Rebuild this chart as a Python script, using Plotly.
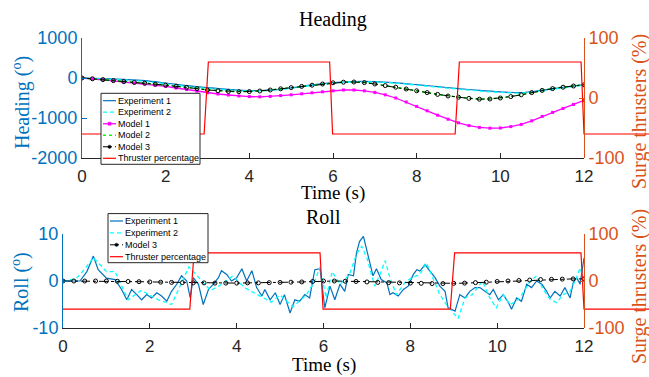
import plotly.graph_objects as go

# ---------------- DATA ----------------
# Heading (top plot)
t_model = [i * 0.25 for i in range(49)]
heading_model1 = [0, -20, -40, -70, -100, -125, -150, -180, -210, -250, -290, -330, -370, -400, -425, -450,
                  -465, -470, -460, -440, -420, -395, -370, -345, -320, -300, -300, -320, -360, -420, -500,
                  -600, -710, -820, -930, -1030, -1120, -1190, -1235, -1255, -1250, -1215, -1160, -1070,
                  -960, -860, -760, -660, -560]
heading_model2 = [0, -18, -38, -62, -88, -108, -128, -152, -178, -203, -232, -262, -296, -318, -333, -340,
                  -338, -323, -298, -268, -238, -208, -178, -148, -118, -103, -98, -112, -148, -188, -228,
                  -272, -318, -362, -408, -448, -478, -508, -528, -522, -498, -462, -418, -362, -308, -262,
                  -228, -198, -168]
heading_model3 = [0, -20, -40, -65, -90, -110, -130, -155, -180, -205, -235, -265, -300, -320, -335, -342,
                  -340, -325, -300, -270, -240, -210, -180, -150, -120, -105, -100, -115, -150, -190, -230,
                  -275, -320, -365, -410, -450, -480, -510, -530, -525, -500, -465, -420, -365, -310, -265,
                  -230, -200, -170]
t_exp_heading = [i * 0.5 for i in range(25)]
heading_exp1 = [0, -15, -35, -65, -125, -190, -240, -285, -315, -300, -245, -170, -115, -88, -90, -120,
                -165, -215, -265, -310, -345, -365, -305, -235, -165]
heading_exp2 = [0, -25, -50, -85, -145, -210, -260, -300, -325, -310, -255, -185, -130, -100, -100, -130,
                -180, -230, -280, -325, -360, -375, -320, -250, -180]

# Roll (bottom plot)
t_roll_exp1 = [0, 0.39, 0.55, 0.7, 0.81, 1.0, 1.2, 1.35, 1.47, 1.58, 1.7, 1.81, 1.93, 2.04, 2.16, 2.27, 2.39,
               2.5, 2.62, 2.73, 2.85, 2.93, 3.0, 3.12, 3.23, 3.35, 3.46, 3.58, 3.65, 3.77, 3.88, 4.0, 4.12,
               4.23, 4.35, 4.46, 4.58, 4.65, 4.77, 4.89, 5.0, 5.1, 5.23, 5.34, 5.45, 5.57, 5.68, 5.8, 5.92,
               6.03, 6.15, 6.26, 6.38, 6.49, 6.57, 6.69, 6.76, 6.83, 6.92, 7.0, 7.07, 7.14, 7.22, 7.33, 7.46,
               7.53, 7.6, 7.72, 7.84, 7.95, 8.07, 8.15, 8.22, 8.34, 8.45, 8.57, 8.68, 8.8, 8.87, 8.95, 9.03,
               9.14, 9.26, 9.37, 9.49, 9.6, 9.72, 9.83, 9.91, 10.03, 10.14, 10.26, 10.33, 10.45, 10.56,
               10.68, 10.79, 10.91, 11.03, 11.14, 11.22, 11.33, 11.45, 11.56, 11.68, 11.75, 11.83, 11.91,
               12.0]
roll_exp1 = [0, 0, 2.0, 5.3, 2.4, 0.6, 0.3, -1.8, -4.0, -1.8, -2.9, -4.0, -2.9, -3.6, -2.5, -3.2, -4.3,
             -2.2, -0.7, 1.1, 0.0, -3.6, 0.7, -0.7, -5.0, -1.8, -0.7, 0.7, 2.2, 1.4, 0.0, 0.7, 2.6,
             0.0, 2.2, -1.4, -3.2, -1.8, -4.0, -2.5, -5.0, -2.9, -6.8, -4.0, -4.3, -2.9, -3.6, 2.4, 2.6,
             -5.7, -1.1, -4.0, -0.7, -2.2, 1.4, 1.1, 6.0, 8.4, 9.5, 6.3, 3.5, 1.1, 2.6, 0.3, -0.4,
             -2.9, -2.5, -3.2, -1.8, -1.1, 1.4, 2.4, 2.1, 3.5, 2.1, 0.7, -1.1, -2.2, -5.7, -6.0, -6.4,
             -2.9, -3.6, -2.2, -1.4, -1.4, -2.2, -2.9, -1.8, -4.0, -2.9, -4.6, -6.0, -3.6, -4.3,
             -0.7, -1.4, 0.0, -0.7, -2.2, -3.6, -2.2, -3.2, -1.4, -3.6, -0.4, 0.7, -0.7, 4.9]
t_roll_exp2 = [0, 0.3, 0.5, 0.7, 0.85, 1.0, 1.2, 1.5, 1.8, 2.0, 2.2, 2.5, 2.7, 2.9, 3.05, 3.2, 3.4, 3.6,
               3.9, 4.2, 4.5, 4.8, 5.0, 5.3, 5.6, 5.8, 5.92, 6.06, 6.2, 6.38, 6.6, 6.76, 6.88, 7.0, 7.18,
               7.3, 7.42, 7.53, 7.68, 7.87, 8.03, 8.22, 8.37, 8.52, 8.68, 8.83, 8.98, 9.1, 9.26, 9.43, 9.66,
               9.83, 9.98, 10.14, 10.29, 10.45, 10.6, 10.76, 10.91, 11.06, 11.22, 11.37, 11.52, 11.68,
               11.83, 11.91, 12.0]
roll_exp2 = [0, 0.5, 2.5, 5.0, 3.5, 2.0, 2.0, -4.0, -2.0, -3.0, -4.0, -5.0, -1.0, 3.0, 1.5, 0.0, -2.0, -1.0,
             1.0, -1.5, -3.0, -4.5, -3.0, -5.5, -3.0, 0.0, 3.0, -3.6, 2.0, -0.7, 1.4, 5.7, 7.4, 4.9, -1.1,
             1.4, 4.3, 0.7, -2.9, -0.4, 0.7, 1.4, 3.9, 0.7, -2.9, -5.0, -6.8, -8.0, -3.6, -2.9, 0.0,
             -3.6, -5.7, -2.9, -5.0, -4.3, -2.5, 0.0, 1.1, -1.8, -3.9, -4.6, -2.9, -2.2, 0.7, 2.8, 0.0]
roll_model3 = [0, 0, 0, 0, 0, -0.05, -0.1, -0.15, -0.2, -0.25, -0.3, -0.35, -0.4, -0.4, -0.45, -0.45,
               -0.45, -0.4, -0.4, -0.35, -0.3, -0.25, -0.2, -0.1, 0, 0, -0.05, -0.1, -0.2, -0.3, -0.35,
               -0.4, -0.45, -0.5, -0.55, -0.55, -0.5, -0.45, -0.35, -0.25, -0.1, 0, 0.1, 0.2, 0.3, 0.35,
               0.4, 0.45, 0.45]

# Thruster percentage (both plots)
t_thruster = [0, 2.92, 3.02, 5.92, 5.99, 8.92, 9.02, 11.93, 12.0, 14.0]
thruster = [-60, -60, 60, 60, -60, -60, 60, 60, -60, -60]

# Tick labels
x_ticks = [0, 2, 4, 6, 8, 10, 12]
x_ticktext = ["0", "2", "4", "6", "8", "10", "12"]
heading_ticks = [-2000, -1000, 0, 1000]
heading_ticktext = ["-2000", "-1000", "0", "1000"]
roll_ticks = [-10, 0, 10]
roll_ticktext = ["-10", "0", "10"]
thr_ticks = [-100, 0, 100]
thr_ticktext = ["-100", "0", "100"]

# ---------------- STYLE / LAYOUT ----------------
W, H = 649, 377
top_l, top_r, top_t, top_b = 82, 584, 38, 158
bot_l, bot_r, bot_t, bot_b = 63, 584, 234, 328

BLUE = "#0072BD"
ORANGE = "#D95319"
GREY = "#262626"
CYAN = "#00FFFF"
MAGENTA = "#FF00FF"
GREEN = "#00FF00"
RED = "#FF0000"
SANS = "Liberation Sans, Arial, sans-serif"
SERIF = "Liberation Serif, Times New Roman, serif"

style = {
    "Experiment 1": dict(color=BLUE, width=1.2, dash="solid", marker=None),
    "Experiment 2": dict(color=CYAN, width=1.3, dash="4px,3px", marker=None),
    "Model 1": dict(color=MAGENTA, width=1.3, dash="solid", marker="square"),
    "Model 2": dict(color=GREEN, width=1.5, dash="dot", marker=None),
    "Model 3": dict(color="black", width=1.0, dash="dashdot", marker="circle"),
    "Thruster percentage": dict(color=RED, width=1.2, dash="solid", marker=None),
}


def px_x(p):
    return p / W


def px_y(p):
    return 1 - p / H


top_xdom = [px_x(top_l), px_x(top_r)]
top_ydom = [px_y(top_b), px_y(top_t)]
bot_xdom = [px_x(bot_l), px_x(bot_r)]
bot_ydom = [px_y(bot_b), px_y(bot_t)]

top_ext = 12 * (W - top_l) / (top_r - top_l)
bot_ext = 12 * (W - bot_l) / (bot_r - bot_l)

fig = go.Figure()


def add_series(name, x, y, xa, ya, spline=False):
    s = style[name]
    mode = "lines+markers" if s["marker"] else "lines"
    marker = None
    if s["marker"] == "square":
        marker = dict(symbol="square", size=3, color=s["color"])
    elif s["marker"] == "circle":
        marker = dict(symbol="circle-open", size=4, color=s["color"], line=dict(width=1))
    fig.add_trace(go.Scatter(x=x, y=y, name=name, mode=mode, showlegend=False,
                             line=dict(color=s["color"], width=s["width"], dash=s["dash"],
                                       shape="spline" if spline else "linear"),
                             marker=marker, xaxis=xa, yaxis=ya))


# top
add_series("Experiment 1", t_exp_heading, heading_exp1, "x", "y", spline=True)
add_series("Experiment 2", t_exp_heading, heading_exp2, "x", "y", spline=True)
add_series("Model 1", t_model, heading_model1, "x", "y")
add_series("Model 2", t_model, heading_model2, "x", "y")
add_series("Model 3", t_model, heading_model3, "x", "y")
add_series("Thruster percentage", t_thruster, thruster, "x3", "y3")
# bottom
add_series("Experiment 1", t_roll_exp1, roll_exp1, "x2", "y2")
add_series("Experiment 2", t_roll_exp2, roll_exp2, "x2", "y2")
add_series("Model 3", t_model, roll_model3, "x2", "y2")
add_series("Thruster percentage", t_thruster, thruster, "x4", "y4")

tickfont_x = dict(family=SANS, size=17, color=GREY)


def xaxis_common(dom, anchor):
    return dict(domain=dom, anchor=anchor, range=[0, 12], tickvals=x_ticks, ticktext=x_ticktext,
                ticks="inside", ticklen=5, tickcolor=GREY, showline=True, linecolor=GREY, linewidth=1,
                showgrid=False, zeroline=False, tickfont=tickfont_x, ticklabelstandoff=3)


def yleft(dom, anchor, rng, tv, tt):
    return dict(domain=dom, anchor=anchor, range=rng, tickvals=tv, ticktext=tt, ticks="inside", ticklen=5,
                tickcolor=BLUE, showline=True, linecolor=BLUE, linewidth=1, showgrid=False, zeroline=False,
                tickfont=dict(family=SANS, size=18, color=BLUE))


def yright(dom, pos):
    return dict(domain=dom, anchor="free", position=pos, side="right", range=[-100, 100], tickvals=thr_ticks,
                ticktext=thr_ticktext, ticks="inside", ticklen=5, tickcolor=ORANGE, showline=True,
                linecolor=ORANGE, linewidth=1, showgrid=False, zeroline=False,
                tickfont=dict(family=SANS, size=18, color=ORANGE))


def xhidden(dom, rng, anchor):
    return dict(domain=dom, range=rng, anchor=anchor, visible=False, showgrid=False, zeroline=False)


fig.update_layout(
    width=W, height=H, margin=dict(l=0, r=0, t=0, b=0, autoexpand=False),
    paper_bgcolor="white", plot_bgcolor="rgba(0,0,0,0)", showlegend=False,
    xaxis=xaxis_common(top_xdom, "y"),
    yaxis=yleft(top_ydom, "x", [-2000, 1000], heading_ticks, heading_ticktext),
    xaxis2=xaxis_common(bot_xdom, "y2"),
    yaxis2=yleft(bot_ydom, "x2", [-10, 10], roll_ticks, roll_ticktext),
    xaxis3=xhidden([px_x(top_l), 1], [0, top_ext], "y3"),
    yaxis3=yright(top_ydom, px_x(top_r)),
    xaxis4=xhidden([px_x(bot_l), 1], [0, bot_ext], "y4"),
    yaxis4=yright(bot_ydom, px_x(bot_r)),
)

# ---- titles & axis labels ----
ann_font_black = dict(family=SERIF, size=19, color="black")
annotations = [
    dict(text="Heading", x=px_x((top_l + top_r) / 2), y=px_y(20), font=dict(family=SERIF, size=20, color="black")),
    dict(text="Time (s)", x=px_x((top_l + top_r) / 2), y=px_y(193), font=ann_font_black),
    dict(text="Heading (<sup>o</sup>)", x=px_x(22), y=px_y(103), textangle=-90,
         font=dict(family=SERIF, size=20, color=BLUE)),
    dict(text="Surge thrusters (%)", x=px_x(639), y=px_y(112), textangle=-90,
         font=dict(family=SERIF, size=20, color=ORANGE)),
    dict(text="Roll", x=px_x((bot_l + bot_r) / 2), y=px_y(217), font=dict(family=SERIF, size=20, color="black")),
    dict(text="Time (s)", x=px_x((bot_l + bot_r) / 2), y=px_y(365), font=ann_font_black),
    dict(text="Roll (<sup>o</sup>)", x=px_x(20), y=px_y(282), textangle=-90,
         font=dict(family=SERIF, size=20, color=BLUE)),
    dict(text="Surge thrusters (%)", x=px_x(639), y=px_y(287), textangle=-90,
         font=dict(family=SERIF, size=20, color=ORANGE)),
]
for a in annotations:
    a.update(xref="paper", yref="paper", showarrow=False, xanchor="center", yanchor="middle", borderpad=0)

# ---- compact legends (MATLAB style) ----
shapes = []


def add_legend(names, left, right, top, row_h):
    first = top + 7.4
    bottom = first + (len(names) - 1) * row_h + 6
    shapes.append(dict(type="rect", xref="paper", yref="paper", x0=px_x(left), x1=px_x(right),
                       y0=px_y(bottom), y1=px_y(top), line=dict(color=GREY, width=1),
                       fillcolor="white", layer="above"))
    for i, name in enumerate(names):
        s = style[name]
        cy = first + i * row_h
        shapes.append(dict(type="line", xref="paper", yref="paper", x0=px_x(left + 2), x1=px_x(left + 15),
                           y0=px_y(cy), y1=px_y(cy), layer="above",
                           line=dict(color=s["color"], width=s["width"], dash=s["dash"])))
        cx = left + 8.5
        if s["marker"] == "square":
            shapes.append(dict(type="rect", xref="paper", yref="paper", x0=px_x(cx - 1.5), x1=px_x(cx + 1.5),
                               y0=px_y(cy + 1.5), y1=px_y(cy - 1.5), fillcolor=s["color"],
                               line=dict(color=s["color"], width=0.5), layer="above"))
        elif s["marker"] == "circle":
            shapes.append(dict(type="circle", xref="paper", yref="paper", x0=px_x(cx - 1.6), x1=px_x(cx + 1.6),
                               y0=px_y(cy + 1.6), y1=px_y(cy - 1.6), fillcolor=s["color"],
                               line=dict(color=s["color"], width=0.5), layer="above"))
        annotations.append(dict(text=name, x=px_x(left + 16), y=px_y(cy), xref="paper", yref="paper",
                                showarrow=False, xanchor="left", yanchor="middle", borderpad=0,
                                font=dict(family=SANS, size=9, color="black")))


add_legend(["Experiment 1", "Experiment 2", "Model 1", "Model 2", "Model 3", "Thruster percentage"],
           101, 200, 93.3, 11.52)
add_legend(["Experiment 1", "Experiment 2", "Model 3", "Thruster percentage"],
           108, 208, 213.6, 11.9)

fig.update_layout(annotations=annotations, shapes=shapes)

fig.write_html("out.html")
